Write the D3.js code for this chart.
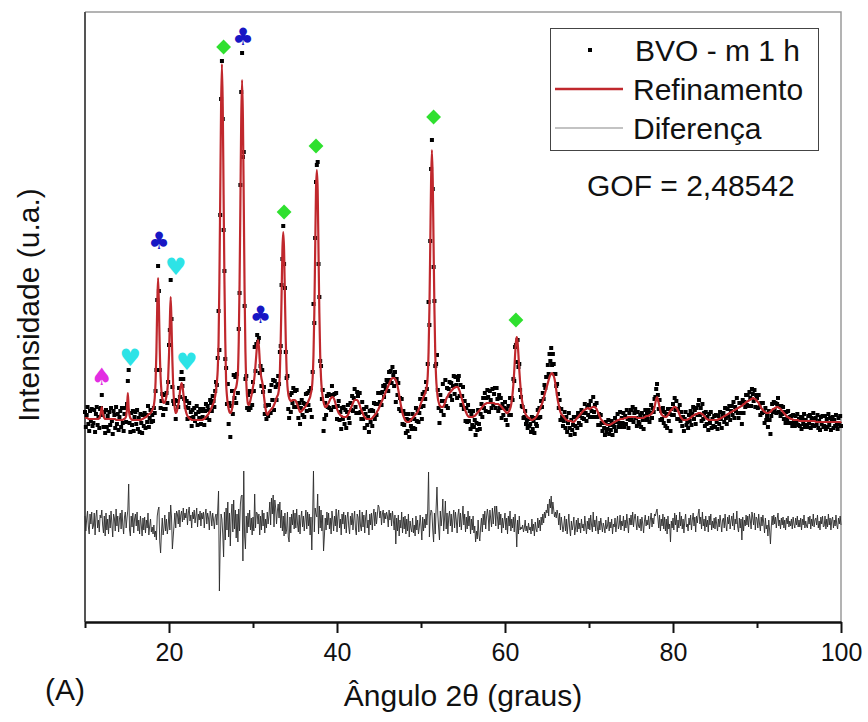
<!DOCTYPE html>
<html>
<head>
<meta charset="utf-8">
<script src="https://cdn.jsdelivr.net/npm/d3@7/dist/d3.min.js"></script>
<style>
    body { margin: 0; background: #fff; }
    #chart-area text { font-family: Arial, "Liberation Sans", sans-serif; }
</style>
</head>
<body>
<div id="chart-area"></div>
<script>

//2theta grid of the scan (degrees)
const twoThetaStart = 10;
const twoThetaStep = 0.1;

//observed intensity (BVO - m 1 h), one row per degree, 10.0 .. 100.0
const yObs = [
    210,195,207,215,198,191,211,201,213,196,
    199,212,190,208,215,197,205,194,213,214,
    227,207,195,210,189,212,195,206,191,210,
    197,214,201,188,211,207,194,215,198,208,
    192,205,211,195,214,199,191,208,214,200,
    218,241,252,199,190,209,197,211,191,205,
    210,198,212,193,204,190,208,199,189,207,
    196,209,194,207,200,216,195,204,212,200,
    207,201,214,209,231,252,322,356,331,252,
    214,221,228,207,213,227,213,229,219,240,
    277,292,342,303,235,221,218,222,203,221,
    221,215,234,225,243,250,236,243,223,224,
    215,221,203,214,219,204,210,196,212,205,
    214,201,208,216,197,210,204,213,198,211,
    205,213,197,211,218,204,216,212,202,222,
    219,211,226,221,215,231,240,237,264,311,
    272,407,523,561,503,392,351,263,254,218,
    238,198,219,185,216,231,208,247,224,245,
    219,248,229,293,329,437,530,569,465,470,
    316,243,246,214,227,212,231,214,230,217,
    240,231,275,251,278,287,280,284,249,256,
    236,252,230,235,208,216,203,217,206,217,
    231,209,237,222,242,212,241,235,222,237,
    246,238,270,276,337,363,396,358,334,270,
    244,246,213,204,227,210,229,219,234,215,
    231,215,232,215,204,219,198,214,222,207,
    219,205,218,228,211,229,217,231,212,234,
    205,250,318,299,384,440,457,460,358,325,
    261,256,223,232,191,203,219,207,226,215,
    228,214,227,212,236,227,215,228,215,229,
    203,216,221,202,210,193,214,203,215,198,
    212,194,210,217,204,199,219,212,226,211,
    224,233,215,209,230,226,209,229,210,203,
    220,203,213,194,208,215,197,205,190,211,
    200,212,196,211,219,203,218,207,218,229,
    229,220,229,217,230,236,225,237,233,242,
    240,231,250,242,251,239,255,247,236,250,
    220,243,227,239,213,224,211,223,198,211,
    197,208,189,203,191,208,185,202,196,193,
    208,194,203,193,214,201,212,200,209,223,
    215,203,228,216,230,223,240,233,258,320,
    297,381,453,482,433,355,321,256,258,267,
    232,214,199,227,211,221,238,207,221,242,
    216,234,214,233,240,226,239,222,236,246,
    228,245,237,224,242,246,226,237,217,226,
    235,213,221,201,214,200,217,201,211,193,
    208,197,211,195,202,187,199,192,212,198,
    193,208,218,205,224,214,229,211,224,232,
    225,210,231,222,214,233,217,228,234,214,
    234,223,211,227,214,224,204,218,207,214,
    220,202,213,197,216,207,224,207,224,222,
    243,241,275,277,260,282,255,258,232,225,
    216,215,204,205,211,198,202,194,203,196,
    198,190,205,193,201,189,204,198,196,212,
    204,214,205,221,215,229,223,237,234,245,
    245,257,248,268,261,274,257,268,258,248,
    248,236,238,228,214,222,202,213,205,196,
    201,210,194,205,190,199,209,194,187,202,
    192,197,205,188,196,205,194,209,199,206,
    197,212,204,209,203,218,209,201,215,207,
    217,205,221,211,205,225,210,217,205,219,
    205,197,208,197,207,199,191,199,194,187,
    200,190,193,202,188,197,192,201,187,197,
    195,204,191,200,208,195,199,210,195,204,
    199,209,195,206,198,212,203,194,209,202,
    212,202,215,200,209,213,204,196,210,200,
    198,207,195,209,202,193,206,212,202,208,
    203,212,200,209,217,204,214,210,223,225,
    233,238,227,213,222,202,211,203,214,199,
    210,196,208,194,213,201,208,191,213,207,
    218,207,224,212,221,203,213,203,217,201,
    210,196,205,191,203,210,197,200,194,207,
    201,211,197,208,215,203,212,198,214,207,
    217,222,207,214,201,218,203,209,196,210,
    198,205,192,208,199,210,194,203,196,206,
    195,207,200,193,206,198,210,203,194,207,
    209,200,214,204,198,213,206,216,202,211,
    216,207,220,204,215,211,224,209,204,219,
    209,219,198,222,209,220,215,227,217,227,
    216,230,224,216,233,228,221,232,215,227,
    224,214,227,215,207,219,209,219,210,199,
    214,202,206,195,211,202,188,206,218,210,
    220,212,219,209,218,224,210,216,206,216,
    208,215,203,210,199,210,203,211,199,205,
    199,206,196,207,200,196,206,199,208,197,
    203,196,205,193,204,198,208,195,202,197,
    195,206,199,207,194,204,197,209,196,203,
    204,197,207,194,201,192,205,198,206,195,
    196,206,193,203,195,208,197,204,192,202,
    205,194,202,196,207,197,193,204,198,206,
    196
];

//refined (calculated) intensity on the same grid
const yCalc = [
    204,204,204,204,203,203,203,203,203,203,
    203,203,203,203,203,203,203,204,206,210,
    215,210,206,204,203,203,203,203,203,203,
    203,203,203,203,203,203,203,202,202,202,
    202,202,202,202,202,202,203,203,204,206,
    214,229,214,207,204,203,202,202,202,202,
    202,202,202,202,202,202,202,202,203,203,
    204,204,205,205,206,207,208,208,209,210,
    212,213,217,224,240,270,316,344,316,272,
    245,231,224,220,219,220,222,226,231,244,
    267,300,325,298,262,236,221,213,209,210,
    213,217,222,230,236,239,236,229,221,215,
    211,208,206,205,204,203,203,202,202,202,
    202,202,202,202,202,202,202,202,202,202,
    202,203,203,204,205,206,207,208,210,211,
    213,215,217,219,222,226,232,240,252,280,
    341,427,515,558,515,427,341,281,240,226,
    218,213,210,209,210,213,218,225,231,233,
    235,240,249,280,338,419,504,542,504,419,
    330,270,240,225,218,217,219,222,226,230,
    235,240,247,257,268,278,282,276,262,250,
    244,240,234,226,219,213,209,207,208,210,
    211,212,213,214,215,217,219,221,224,226,
    228,234,250,282,325,372,390,372,325,282,
    252,236,228,224,222,221,221,222,222,222,
    222,221,219,217,214,212,210,210,211,212,
    213,214,215,216,218,219,221,223,225,229,
    233,244,267,309,370,432,452,432,370,309,
    267,244,232,225,220,217,215,215,216,218,
    219,221,223,224,225,225,224,222,219,216,
    213,211,209,208,207,206,206,205,205,205,
    205,205,206,207,209,211,213,215,217,219,
    221,222,222,222,222,221,219,217,214,212,
    210,208,206,205,204,203,203,203,203,203,
    203,203,204,205,206,207,208,209,211,212,
    214,216,218,220,222,224,226,228,230,232,
    234,236,238,240,242,243,244,244,244,243,
    242,239,236,232,227,222,217,213,209,206,
    204,202,201,200,200,200,200,201,202,203,
    204,205,206,207,208,209,210,212,214,216,
    219,221,223,225,227,229,232,236,246,270,
    312,375,441,472,441,375,312,268,244,232,
    224,220,217,216,215,215,215,216,218,221,
    223,225,226,228,229,230,231,232,233,234,
    234,235,235,235,235,233,231,228,225,222,
    219,216,213,211,209,207,206,205,205,205,
    205,205,205,206,206,207,208,209,210,211,
    212,213,214,215,216,217,218,218,219,219,
    219,219,219,219,219,219,219,219,218,218,
    218,218,218,217,217,216,215,214,213,212,
    211,210,209,209,210,211,213,216,221,228,
    238,251,267,280,285,280,267,252,240,230,
    223,218,214,211,209,207,206,205,204,204,
    203,202,202,202,203,203,204,205,206,208,
    210,212,214,216,218,221,224,227,230,233,
    236,239,242,245,247,248,249,248,246,243,
    238,232,226,221,217,213,210,208,207,206,
    205,204,203,202,202,201,201,201,201,201,
    200,200,200,201,202,203,204,205,206,207,
    208,209,210,211,212,212,213,213,214,214,
    213,213,214,214,215,215,215,215,214,213,
    211,209,207,205,203,202,201,200,199,198,
    198,197,197,197,197,197,198,198,199,199,
    200,200,201,201,202,202,202,203,203,203,
    203,203,204,204,204,204,205,205,205,205,
    205,205,205,205,205,205,205,204,204,204,
    204,204,204,204,204,204,205,205,206,206,
    206,206,207,207,208,209,210,212,215,219,
    223,225,223,219,215,211,208,207,206,206,
    205,205,205,206,207,208,210,211,212,213,
    214,215,215,215,214,213,211,209,207,205,
    204,203,202,202,202,202,202,202,203,203,
    204,204,205,206,206,207,207,208,208,208,
    209,209,209,209,208,208,207,206,205,204,
    203,203,202,202,202,202,202,202,202,202,
    202,202,202,202,203,203,203,204,204,205,
    205,206,206,207,207,208,208,209,209,210,
    210,211,211,212,212,213,213,214,214,215,
    215,216,216,217,218,218,219,220,220,221,
    221,222,222,223,223,224,224,223,223,222,
    221,220,219,217,216,214,213,212,211,210,
    210,209,209,209,209,210,210,211,212,213,
    213,214,214,215,215,215,214,214,213,212,
    211,210,209,208,207,206,205,205,204,204,
    203,203,203,202,202,202,202,202,202,202,
    201,201,201,201,201,201,201,201,201,201,
    201,201,201,201,201,201,201,201,201,201,
    200,200,200,200,200,200,200,200,200,200,
    200,200,200,200,200,200,200,200,200,200,
    200,200,200,200,200,200,200,200,200,200,
    199
];

//axis ticks
const xTicks = [20, 40, 60, 80, 100];
const xMinorTicks = [10, 30, 50, 70, 90];

//legend and annotation text
const legendLabels = ["BVO - m 1 h", "Refinamento", "Diferença"];
const gofLabel = "GOF = 2,48542";
const panelLabel = "(A)";
const xTitle = "Ângulo 2θ (graus)";
const yTitle = "Intensidade (u.a.)";

//phase markers above the peaks
const markTheta = [12.0, 15.4, 18.8, 20.8, 22.1, 26.5, 28.8, 30.9, 33.7, 37.5, 51.5, 61.3];
const markInt = [245, 264, 381, 355, 260, 575, 585, 307, 410, 476, 505, 302];
const markPhase = ["spade", "heart", "club", "heart", "heart", "diamond", "club", "club", "diamond", "diamond", "diamond", "diamond"];


class XrdChart {

    constructor(_parentElement) {
        this.parentElement = _parentElement;

        this.initVis();
    }

    initVis() {

        let vis = this;

        vis.margin = {top: 12, right: 27, bottom: 100, left: 85};
        vis.width = 868 - vis.margin.left - vis.margin.right;
        vis.height = 722 - vis.margin.top - vis.margin.bottom;

        //SVG drawing area
        vis.root = d3.select("#" + vis.parentElement).append("svg")
            .attr("width", 868)
            .attr("height", 722)
            .style("display", "block");

        vis.root.append("rect")
            .attr("width", 868)
            .attr("height", 722)
            .attr("fill", "#fff");

        vis.svg = vis.root.append("g")
            .attr("transform", "translate(" + vis.margin.left + "," + vis.margin.top + ")");

        //scales
        vis.x = d3.scaleLinear()
            .domain([10, 100])
            .range([0, vis.width]);

        vis.y = d3.scaleLinear()
            .domain([0, 610])
            .range([vis.height, 0]);

        //frame: grey top and right edges
        vis.svg.append("path")
            .attr("d", "M0,0H" + vis.width + "V" + vis.height)
            .attr("fill", "none")
            .attr("stroke", "#9a9a9a")
            .attr("stroke-width", 1.5);

        vis.svg.append("line")
            .attr("x1", 0).attr("x2", 0)
            .attr("y1", 0).attr("y2", vis.height)
            .attr("stroke", "#555")
            .attr("stroke-width", 2);

        //groups for the data layers
        vis.dotLayer = vis.svg.append("g").attr("class", "obs");
        vis.calcPath = vis.svg.append("path").attr("class", "calc");
        vis.diffPath = vis.svg.append("path").attr("class", "diff");
        vis.markLayer = vis.svg.append("g").attr("class", "marks");

        //x axis with major and minor ticks
        vis.xAxis = d3.axisBottom(vis.x)
            .tickValues(xTicks)
            .tickSize(11)
            .tickSizeOuter(0)
            .tickPadding(10)
            .tickFormat(d3.format("d"));

        vis.xMinor = d3.axisBottom(vis.x)
            .tickValues(xMinorTicks)
            .tickSize(6)
            .tickSizeOuter(0)
            .tickFormat("");

        vis.svg.append("g")
            .attr("class", "x-minor")
            .attr("transform", "translate(0," + vis.height + ")")
            .call(vis.xMinor);

        vis.xAxisG = vis.svg.append("g")
            .attr("class", "x-axis")
            .attr("transform", "translate(0," + vis.height + ")")
            .call(vis.xAxis);

        vis.svg.selectAll(".x-axis path, .x-minor path")
            .attr("stroke", "#111")
            .attr("stroke-width", 2);
        vis.svg.selectAll(".x-axis line, .x-minor line")
            .attr("stroke", "#111")
            .attr("stroke-width", 2);
        vis.xAxisG.selectAll("text")
            .attr("fill", "#111")
            .style("font-size", "25px");

        //axis titles and labels
        vis.root.append("text")
            .attr("x", vis.margin.left + vis.width / 2)
            .attr("y", 706)
            .attr("text-anchor", "middle")
            .attr("fill", "#111")
            .style("font-size", "30px")
            .text(xTitle);

        vis.root.append("text")
            .attr("x", 45)
            .attr("y", 700)
            .attr("fill", "#111")
            .style("font-size", "30px")
            .text(panelLabel);

        vis.root.append("text")
            .attr("transform", "translate(39,305) rotate(-90)")
            .attr("text-anchor", "middle")
            .attr("fill", "#111")
            .style("font-size", "30px")
            .text(yTitle);

        //legend
        vis.legend = vis.root.append("g").attr("class", "legend");

        vis.legend.append("rect")
            .attr("x", 550.5).attr("y", 28.5)
            .attr("width", 268).attr("height", 122)
            .attr("fill", "#fff")
            .attr("stroke", "#444")
            .attr("stroke-width", 1);

        vis.legend.append("rect")
            .attr("x", 588).attr("y", 48)
            .attr("width", 4).attr("height", 4)
            .attr("fill", "#000");

        vis.legend.append("line")
            .attr("x1", 555).attr("x2", 623)
            .attr("y1", 89).attr("y2", 89)
            .attr("stroke", "#c0282d")
            .attr("stroke-width", 2.5);

        vis.legend.append("line")
            .attr("x1", 555).attr("x2", 623)
            .attr("y1", 128).attr("y2", 128)
            .attr("stroke", "#888")
            .attr("stroke-width", 1.2);

        vis.legend.selectAll(".legend-label")
            .data(legendLabels)
            .enter()
            .append("text")
            .attr("class", "legend-label")
            .attr("x", (d, i) => i === 0 ? 635 : 633)
            .attr("y", (d, i) => 61 + i * 39)
            .attr("fill", "#111")
            .style("font-size", "30px")
            .text(d => d);

        vis.root.append("text")
            .attr("x", 587)
            .attr("y", 196)
            .attr("fill", "#111")
            .style("font-size", "30px")
            .text(gofLabel);

        vis.wrangleData();
    }

    wrangleData() {
        let vis = this;

        //pair every observed point with its refined value, difference = obs - calc
        vis.points = yObs.map((d, i) => ({
            theta: twoThetaStart + i * twoThetaStep,
            obs: d,
            calc: yCalc[i],
            diff: d - yCalc[i]
        }));

        vis.marks = markTheta.map((d, i) => ({
            theta: d,
            value: markInt[i],
            phase: markPhase[i]
        }));

        //offset of the difference curve below the pattern
        vis.diffOffset = 100;

        vis.updateVis();
    }

    updateVis() {
        let vis = this;

        //observed data as small squares
        vis.dotLayer.selectAll(".obs-dot")
            .data(vis.points)
            .enter()
            .append("rect")
            .attr("class", "obs-dot")
            .attr("x", d => vis.x(d.theta) - 2)
            .attr("y", d => vis.y(d.obs) - 2)
            .attr("width", 4)
            .attr("height", 4)
            .attr("fill", "#000");

        //refinement line
        let calcLine = d3.line()
            .x(d => vis.x(d.theta))
            .y(d => vis.y(d.calc))
            .curve(d3.curveMonotoneX);

        vis.calcPath
            .datum(vis.points)
            .attr("d", calcLine)
            .attr("fill", "none")
            .attr("stroke", "#c0282d")
            .attr("stroke-width", 2.2)
            .attr("stroke-linejoin", "round");

        //difference line
        let diffLine = d3.line()
            .x(d => vis.x(d.theta))
            .y(d => vis.y(d.diff + vis.diffOffset));

        vis.diffPath
            .datum(vis.points)
            .attr("d", diffLine)
            .attr("fill", "none")
            .attr("stroke", "#2a2a2a")
            .attr("stroke-width", 0.9);

        //phase markers
        let glyphs = {club: "\u2663", heart: "\u2665", spade: "\u2660"};
        let colors = {club: "#1717c4", heart: "#2de3e6", spade: "#e22ee2", diamond: "#2fe02f"};

        vis.markLayer.selectAll(".mark-diamond")
            .data(vis.marks.filter(d => d.phase === "diamond"))
            .enter()
            .append("path")
            .attr("class", "mark-diamond")
            .attr("d", d3.symbol().type(d3.symbolSquare).size(110))
            .attr("transform", d => "translate(" + vis.x(d.theta) + "," + vis.y(d.value) + ") rotate(45)")
            .attr("fill", colors.diamond);

        vis.markLayer.selectAll(".mark-glyph")
            .data(vis.marks.filter(d => d.phase !== "diamond"))
            .enter()
            .append("text")
            .attr("class", "mark-glyph")
            .attr("x", d => vis.x(d.theta))
            .attr("y", d => vis.y(d.value))
            .attr("text-anchor", "middle")
            .attr("dominant-baseline", "central")
            .style("font-family", "'DejaVu Sans', sans-serif")
            .style("font-size", "24px")
            .attr("fill", d => colors[d.phase])
            .text(d => glyphs[d.phase]);
    }
}

new XrdChart("chart-area");

</script>
</body>
</html>
